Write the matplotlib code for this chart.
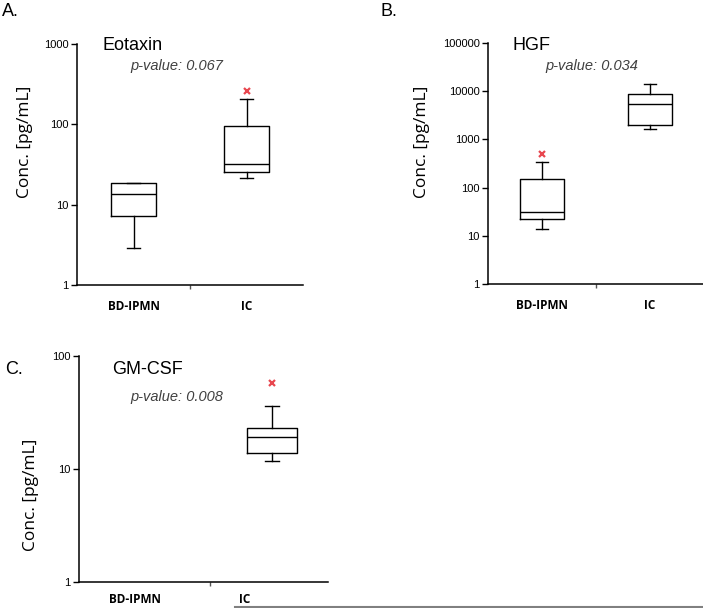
import matplotlib.pyplot as plt
from matplotlib.lines import Line2D

W, H = 703, 608

groups = ['BD-IPMN', 'IC']

# quartile summaries (pg/mL)
eotaxin = [
    dict(whislo=2.86, q1=7.3, med=13.6, q3=18.5, whishi=18.5, fliers=[]),
    dict(whislo=21.3, q1=25.8, med=32.4, q3=94.6, whishi=205, fliers=[263]),
]
hgf = [
    dict(whislo=13.8, q1=21.9, med=31.2, q3=151, whishi=340, fliers=[498]),
    dict(whislo=1640, q1=1990, med=5320, q3=8870, whishi=14300, fliers=[]),
]
gmcsf = [
    dict(whislo=11.8, q1=13.8, med=19.2, q3=22.9, whishi=36.1, fliers=[58]),
]

fig = plt.figure(figsize=(W / 100, H / 100), dpi=100)


def px_axes(x0, y0, x1, y1):
    return fig.add_axes([x0 / W, 1 - y1 / H, (x1 - x0) / W, (y1 - y0) / H])


def style(ax, ylim, yticks, xlim, labelpos, ylab_xy, xpad=11):
    ax.set_yscale('log')
    ax.set_ylim(*ylim)
    ax.set_xlim(*xlim)
    ax.set_yticks(yticks)
    ax.set_yticklabels([str(t) for t in yticks], fontsize=8, family='Liberation Sans')
    ax.minorticks_off()
    ax.tick_params(axis='y', length=4, width=1, pad=2)
    ax.set_xticks(labelpos)
    ax.set_xticklabels(groups, fontsize=8.5, fontweight='bold', family='Open Sans')
    ax.tick_params(axis='x', length=0, pad=xpad)
    ax.set_xticks([1.5], minor=True)
    ax.tick_params(axis='x', which='minor', length=3, width=1, color='#555555')
    for s in ['top', 'right']:
        ax.spines[s].set_visible(False)
    for s in ['left', 'bottom']:
        ax.spines[s].set_linewidth(1.1)
    ax.set_ylabel('Conc. [pg/mL]', fontsize=12.5, family='Open Sans')
    ax.yaxis.set_label_coords(ylab_xy[0] / W, 1 - ylab_xy[1] / H,
                              transform=fig.transFigure)


def boxes(ax, stats, pos):
    ax.bxp(stats, positions=pos, widths=0.4, capwidths=0.11, showfliers=True,
           boxprops=dict(color='black', lw=1),
           medianprops=dict(color='black', lw=1),
           whiskerprops=dict(color='black', lw=1),
           capprops=dict(color='black', lw=1),
           flierprops=dict(marker='x', markersize=4, markeredgewidth=1.6,
                           markeredgecolor='#e8474f', linestyle='none'))


axA = px_axes(77, 44, 303, 285)
boxes(axA, eotaxin, [1, 2])
style(axA, (1, 1000), [1, 10, 100, 1000], (0.5, 2.5), [1, 2], (33, 142))

axB = px_axes(488, 43, 704, 284)
boxes(axB, hgf, [1, 2])
style(axB, (1, 100000), [1, 10, 100, 1000, 10000, 100000], (0.5, 2.5), [1, 2],
      (430, 142))

axC = px_axes(79, 356, 328, 582)
boxes(axC, gmcsf, [2])
style(axC, (1, 100), [1, 10, 100], (0.45, 2.45), [0.9, 1.78], (39, 495), xpad=8)


def ftext(x, y, s, **kw):
    fig.text(x / W, 1 - y / H, s, va='center', **kw)


ftext(2, 12, 'A.', fontsize=13, family='Liberation Sans')
ftext(381, 12, 'B.', fontsize=13, family='Liberation Sans')
ftext(5, 369, 'C.', fontsize=13, family='Liberation Sans')

ftext(103, 46, 'Eotaxin', fontsize=13, family='Liberation Sans')
ftext(513, 46, 'HGF', fontsize=13, family='Liberation Sans')
ftext(112, 370, 'GM-CSF', fontsize=13, family='Liberation Sans')

pv = dict(fontsize=10.5, style='italic', color='#404040', family='Liberation Sans')
ftext(130, 66, 'p-value: 0.067', **pv)
ftext(545, 66, 'p-value: 0.034', **pv)
ftext(130, 397, 'p-value: 0.008', **pv)

fig.add_artist(Line2D([235 / W, 1], [1 - 607 / H] * 2, color='#808080', lw=1.5))

fig.savefig('out.png', dpi=100)
